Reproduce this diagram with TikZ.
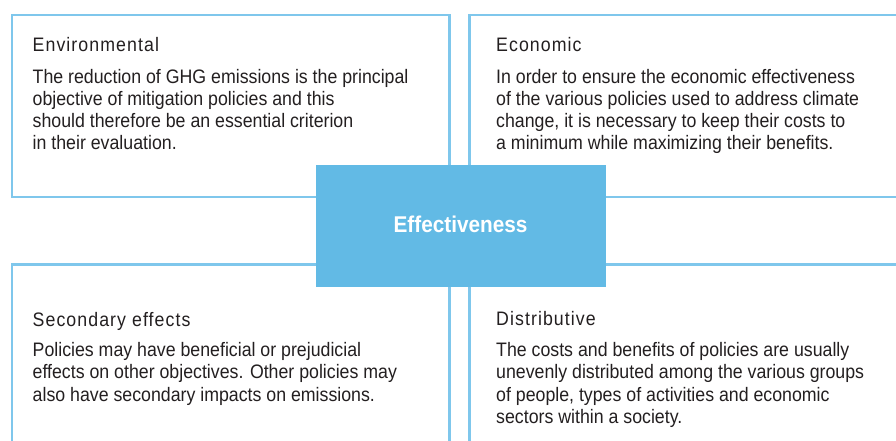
\documentclass[tikz,border=0pt]{standalone}
\usepackage{fontspec}
\setmainfont{Liberation Sans}[FakeStretch=0.91]
\newfontfamily\titlefont{Liberation Sans}[FakeStretch=0.91,LetterSpace=5.5]
\newfontfamily\effont{Liberation Sans}[FakeStretch=0.91,BoldFont={Liberation Sans Bold}]
\definecolor{bordercol}{HTML}{7FC7EC}
\definecolor{fillcol}{HTML}{62BAE5}
\definecolor{txt}{HTML}{231F20}
\begin{document}
\begin{tikzpicture}[x=1pt,y=-1pt,
  boxframe/.style={draw=bordercol,line width=2.4pt},
  ttl/.style={anchor=base west,inner sep=0pt,text=txt,font=\titlefont\fontsize{19.5}{22}\selectfont},
  body/.style={anchor=base west,inner sep=0pt,text=txt,align=left,font=\fontsize{19.5}{22.2}\selectfont},
  centre/.style={fill=fillcol,draw=none}]
\useasboundingbox (0,0) rectangle (896,441);
% frames
\draw[boxframe] (12,15) rectangle (449.5,197);
\draw[boxframe] (469.5,15) rectangle (910,197);
\draw[boxframe] (12,264.5) rectangle (449.5,460);
\draw[boxframe] (469.5,264.5) rectangle (910,460);
% centre
\path[centre] (316,165) rectangle (606,287);
\node[text=white,font=\effont\bfseries\fontsize{22.8}{26}\selectfont,inner sep=0pt,anchor=base] (eff) at (460.5,232.5) {Effectiveness};
% texts (anchor = baseline of the last line)
\node[ttl] (envt) at (32.5,52) {Environmental};
\node[body] (envb) at (32.5,149.6) {The reduction of GHG emissions is the principal\\objective of mitigation policies and this\\should therefore be an essential criterion\\in their evaluation.};
\node[ttl] (ecot) at (496,52) {Economic};
\node[body] (ecob) at (496,149.6) {In order to ensure the economic effectiveness\\of the various policies used to address climate\\change, it is necessary to keep their costs to\\a minimum while maximizing their benefits.};
\node[ttl] (sect) at (32.5,326) {Secondary effects};
\node[body] (secb) at (32.5,401.1) {Policies may have beneficial or prejudicial\\effects on other objectives. Other policies may\\also have secondary impacts on emissions.};
\node[ttl] (dist) at (496,325.5) {Distributive};
\node[body] (disb) at (496,423.3) {The costs and benefits of policies are usually\\unevenly distributed among the various groups\\of people, types of activities and economic\\sectors within a society.};
\end{tikzpicture}
\end{document}
